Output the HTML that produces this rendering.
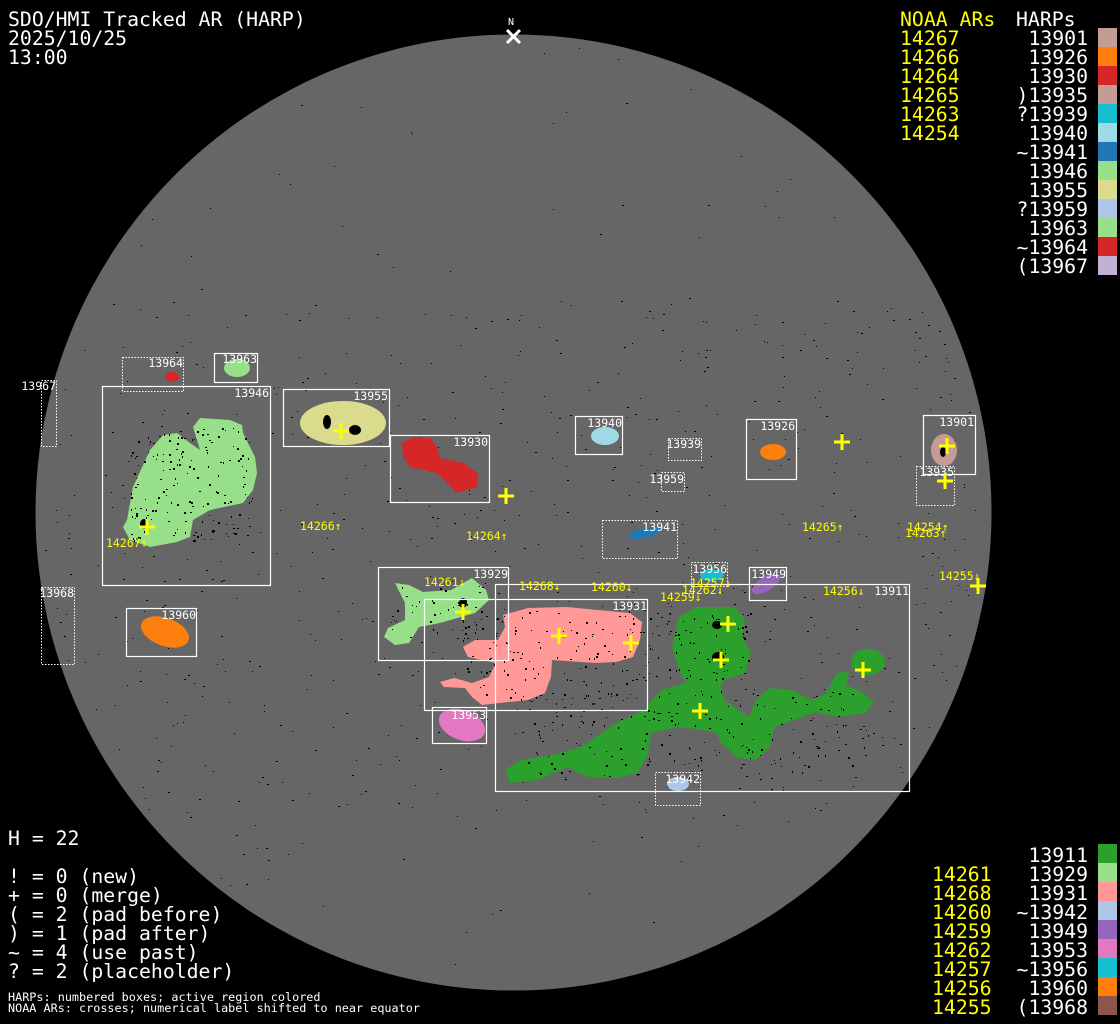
<!DOCTYPE html>
<html><head><meta charset="utf-8">
<style>
html,body{margin:0;padding:0;background:#000;}
body{width:1120px;height:1024px;overflow:hidden;position:relative;font-family:"DejaVu Sans Mono","Liberation Mono",monospace;}
.t{position:absolute;font-size:19.8px;line-height:19px;color:#fff;white-space:pre;}
.y{color:#ffff00;}
.sw{position:absolute;left:1098px;width:19px;height:19px;}
svg{position:absolute;left:0;top:0;}
</style></head><body>
<svg width="1120" height="1024" xmlns="http://www.w3.org/2000/svg" font-family="DejaVu Sans Mono, Liberation Mono, monospace">
<circle cx="513.5" cy="512.5" r="478" fill="#666666"/>
<g id="spk"></g>
<polygon fill="#98df8a" points="127,520 133,487 150,450 163,435 177,433 190,443 200,450 193,427 200,418 230,420 242,425 243,433 255,457 257,473 253,490 243,503 210,510 193,520 190,537 177,542 150,547 130,540 123,527"/>
<ellipse cx="343" cy="423" rx="43" ry="22" fill="#dbdb8d"/>
<polygon fill="#d62728" points="402,443 413,437 430,438 437,447 440,458 463,463 478,473 477,487 457,493 447,483 437,473 410,467 403,457"/>
<ellipse cx="237" cy="368" rx="13" ry="9" fill="#98df8a"/>
<ellipse cx="172" cy="377" rx="7" ry="5" fill="#d62728"/>
<ellipse cx="605" cy="436" rx="14" ry="9" fill="#9edae5"/>
<ellipse cx="773" cy="452" rx="13" ry="8" fill="#ff7f0e"/>
<ellipse cx="944" cy="450" rx="13" ry="16" fill="#c49c94"/>
<ellipse cx="645" cy="533" rx="17" ry="5" fill="#1f77b4" transform="rotate(-12 645 533)"/>
<ellipse cx="165" cy="632" rx="25" ry="14" fill="#ff7f0e" transform="rotate(20 165 632)"/>
<polygon fill="#98df8a" points="395,583 409,585 423,592 451,590 472,578 486,590 489,600 475,613 440,623 419,627 409,643 395,645 384,637 388,628 405,620 405,603"/>
<polygon fill="#ff9896" points="503,615 528,608 567,607 598,610 630,613 642,622 640,640 633,657 616,662 595,663 552,660 551,677 545,693 528,700 500,703 482,705 472,697 465,688 444,687 440,682 454,678 472,683 489,677 496,663 468,657 463,647 475,640 498,640 505,627"/>
<polygon fill="#2ca02c" points="679,617 696,607 735,607 745,620 742,637 751,653 745,673 724,680 721,687 724,700 749,717 756,700 770,688 791,690 812,700 826,693 837,673 849,672 846,685 862,692 874,702 865,713 837,717 816,712 774,727 770,747 756,760 738,758 721,743 717,733 703,730 679,727 651,733 647,757 637,773 616,778 588,777 567,767 538,780 510,783 505,770 521,760 552,755 581,747 616,723 644,710 661,690 686,683 679,670 672,647"/>
<ellipse cx="868" cy="662" rx="17" ry="13" fill="#2ca02c"/>
<ellipse cx="766" cy="584" rx="16" ry="7" fill="#9467bd" transform="rotate(-30 766 584)"/>
<ellipse cx="712" cy="575" rx="12" ry="6" fill="#17becf"/>
<ellipse cx="462" cy="725" rx="24" ry="15" fill="#e377c2" transform="rotate(20 462 725)"/>
<ellipse cx="678" cy="784" rx="11" ry="7" fill="#aec7e8"/>
<g fill="#000">
<ellipse cx="327" cy="422" rx="4" ry="7"/><ellipse cx="355" cy="430" rx="6" ry="5"/>
<ellipse cx="463" cy="603" rx="4" ry="5"/><ellipse cx="717" cy="625" rx="5" ry="4"/>
<ellipse cx="718" cy="657" rx="6" ry="5"/><ellipse cx="943" cy="452" rx="3" ry="5"/>
<ellipse cx="144" cy="524" rx="4" ry="5"/>
</g>
<g id="inspk"></g>
<g fill="none" stroke="#fff" stroke-width="1.2">
<rect x="102.5" y="386.5" width="168" height="199"/>
<rect x="214.5" y="353.5" width="43" height="29"/>
<rect x="283.5" y="389.5" width="106" height="57"/>
<rect x="390.5" y="435.5" width="99" height="67"/>
<rect x="575.5" y="416.5" width="47" height="38"/>
<rect x="746.5" y="419.5" width="50" height="60"/>
<rect x="923.5" y="415.5" width="52" height="59"/>
<rect x="126.5" y="608.5" width="70" height="48"/>
<rect x="378.5" y="567.5" width="130" height="93"/>
<rect x="424.5" y="599.5" width="223" height="111"/>
<rect x="495.5" y="584.5" width="414" height="207"/>
<rect x="749.5" y="567.5" width="37" height="33"/>
<rect x="432.5" y="707.5" width="54" height="36"/>
</g>
<g fill="none" stroke="#fff" stroke-width="1" stroke-dasharray="1.5,1.5">
<rect x="122.5" y="357.5" width="61" height="34"/>
<rect x="41.5" y="380.5" width="15" height="66"/>
<rect x="668.5" y="438.5" width="33" height="22"/>
<rect x="661.5" y="472.5" width="23" height="19"/>
<rect x="916.5" y="466.5" width="38" height="39"/>
<rect x="602.5" y="520.5" width="75" height="38"/>
<rect x="41.5" y="587.5" width="33" height="77"/>
<rect x="691.5" y="562.5" width="36" height="24"/>
<rect x="655.5" y="772.5" width="45" height="33"/>
</g>
<g fill="#fff" font-size="11.5" text-anchor="end">
<text x="269" y="397">13946</text>
<text x="257" y="363">13963</text>
<text x="183" y="367">13964</text>
<text x="388" y="400">13955</text>
<text x="488" y="446">13930</text>
<text x="622" y="427">13940</text>
<text x="701" y="448">13939</text>
<text x="684" y="483">13959</text>
<text x="795" y="430">13926</text>
<text x="974" y="426">13901</text>
<text x="954" y="476">13935</text>
<text x="677" y="531">13941</text>
<text x="74" y="597">13968</text>
<text x="56" y="390">13967</text>
<text x="196" y="619">13960</text>
<text x="508" y="578">13929</text>
<text x="647" y="610">13931</text>
<text x="909" y="595">13911</text>
<text x="727" y="573">13956</text>
<text x="786" y="578">13949</text>
<text x="486" y="719">13953</text>
<text x="700" y="783">13942</text>
</g>
<g fill="#ffff00" font-size="11.5">
<text x="300" y="530">14266↑</text>
<text x="106" y="547">14267↑</text>
<text x="466" y="540">14264↑</text>
<text x="802" y="531">14265↑</text>
<text x="907" y="531">14254↑</text>
<text x="905" y="537">14263↑</text>
<text x="939" y="580">14255↓</text>
<text x="424" y="586">14261↓</text>
<text x="519" y="590">14268↓</text>
<text x="591" y="591">14260↓</text>
<text x="690" y="587">14257↓</text>
<text x="682" y="594">14262↓</text>
<text x="660" y="601">14259↓</text>
<text x="823" y="595">14256↓</text>
</g>
<g stroke="#ffff00" stroke-width="3" id="crs"></g>
<text x="511" y="25" fill="#fff" font-size="10" text-anchor="middle">N</text>
<g stroke="#fff" stroke-width="3"><line x1="507" y1="30" x2="520" y2="43"/><line x1="520" y1="30" x2="507" y2="43"/></g>
</svg>
<div class="t" style="left:8px;top:10px">SDO/HMI Tracked AR (HARP)
2025/10/25
13:00</div>
<div class="t y" style="left:900px;top:10px">NOAA ARs
14267
14266
14264
14265
14263
14254</div>
<div class="t" style="left:900px;top:10px;width:188px;text-align:right">
13901
13926
13930
)13935
?13939
13940
~13941
13946
13955
?13959
13963
~13964
(13967</div>
<div class="t" style="left:1016px;top:10px">HARPs</div>
<div class="t y" style="left:932px;top:846px">
14261
14268
14260
14259
14262
14257
14256
14255</div>
<div class="t" style="left:900px;top:846px;width:188px;text-align:right">13911
13929
13931
~13942
13949
13953
~13956
13960
(13968</div>
<div class="t" style="left:8px;top:829px">H = 22

! = 0 (new)
+ = 0 (merge)
( = 2 (pad before)
) = 1 (pad after)
~ = 4 (use past)
? = 2 (placeholder)</div>
<div class="t" style="left:8px;top:992px;font-size:11.8px;line-height:11px">HARPs: numbered boxes; active region colored
NOAA ARs: crosses; numerical label shifted to near equator</div>
<div id="sws"></div>
<script>
var top1=["#c49c94","#ff7f0e","#d62728","#c49c94","#17becf","#9edae5","#1f77b4","#98df8a","#dbdb8d","#aec7e8","#98df8a","#d62728","#c5b0d5"];
var bot=["#2ca02c","#98df8a","#ff9896","#aec7e8","#9467bd","#e377c2","#17becf","#ff7f0e","#8c564b"];
var h="";
top1.forEach(function(c,i){h+='<div class="sw" style="top:'+(28+19*i)+'px;background:'+c+'"></div>';});
bot.forEach(function(c,i){h+='<div class="sw" style="top:'+(844+19*i)+'px;background:'+c+'"></div>';});
document.getElementById("sws").innerHTML=h;
var s=12345;function r(){s=(s*1103515245+12345)%2147483648;return s/2147483648;}
var g=document.getElementById("spk"),out="";
for(var i=0;i<1400;i++){var x=40+r()*950,y=40+r()*950;var dx=x-513.5,dy=y-512.5;if(dx*dx+dy*dy>470*470)continue;
var band=Math.abs(y-560)<260?1:0.15;if(r()>band)continue;
out+='<rect x="'+x.toFixed(0)+'" y="'+y.toFixed(0)+'" width="'+(1+Math.floor(r()*1.5))+'" height="1"/>';}
g.setAttribute("fill","#000");g.innerHTML=out;
var regs=[[130,425,120,115,0.012],[640,610,110,70,0.01],[460,610,180,90,0.008],[520,690,350,90,0.006],[390,585,95,55,0.008]];
var o2="";regs.forEach(function(R){var n=Math.floor(R[2]*R[3]*R[4]);for(var k=0;k<n;k++){var x=R[0]+r()*R[2],y=R[1]+r()*R[3];o2+='<rect x="'+x.toFixed(0)+'" y="'+y.toFixed(0)+'" width="'+(1+Math.floor(r()*2))+'" height="'+(1+Math.floor(r()*2))+'"/>';}});
var gi=document.getElementById("inspk");gi.setAttribute("fill","#000");gi.innerHTML=o2;
var cr=[[147,527],[341,431],[506,496],[842,442],[947,446],[945,481],[978,586],[463,612],[559,636],[631,643],[728,624],[721,660],[863,670],[700,711]];
var c="";cr.forEach(function(p){c+='<line x1="'+(p[0]-8)+'" y1="'+p[1]+'" x2="'+(p[0]+8)+'" y2="'+p[1]+'"/><line x1="'+p[0]+'" y1="'+(p[1]-8)+'" x2="'+p[0]+'" y2="'+(p[1]+8)+'"/>';});
document.getElementById("crs").innerHTML=c;
</script>
</body></html>
